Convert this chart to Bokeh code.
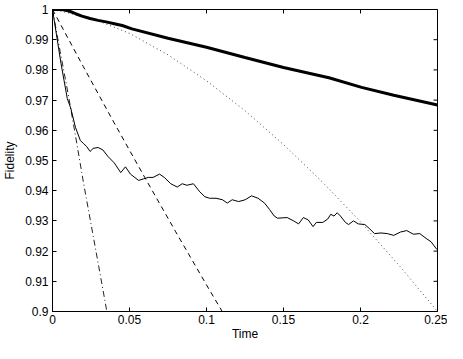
from bokeh.plotting import figure
from bokeh.models import Range1d, FixedTicker
from bokeh.embed import file_html
from bokeh.resources import INLINE

# ---- data ----
x_ticks = [0, 0.05, 0.1, 0.15, 0.2, 0.25]
x_tick_labels = ["0", "0.05", "0.1", "0.15", "0.2", "0.25"]
y_ticks = [0.9, 0.91, 0.92, 0.93, 0.94, 0.95, 0.96, 0.97, 0.98, 0.99, 1.0]
y_tick_labels = ["0.9", "0.91", "0.92", "0.93", "0.94", "0.95", "0.96", "0.97", "0.98", "0.99", "1"]

thick_t = [0, 0.0063, 0.0107, 0.015, 0.0191, 0.0244, 0.0296, 0.0348, 0.0401, 0.0453,
           0.0516, 0.075, 0.1, 0.125, 0.15, 0.1795, 0.2007, 0.2216, 0.25]
thick_f = [1.0, 1.0, 0.9995, 0.9986, 0.9978, 0.9970, 0.9964, 0.9959, 0.9953, 0.9947,
           0.9936, 0.9905, 0.9875, 0.9841, 0.9808, 0.9774, 0.9742, 0.9716, 0.9684]

dotted_t = [0, 0.025, 0.05, 0.075, 0.1, 0.125, 0.15, 0.175, 0.2, 0.225, 0.25]
dotted_f = [1.0, 0.9972, 0.9921, 0.9850, 0.9764, 0.9665, 0.9553, 0.9430, 0.9297, 0.9153, 0.9000]

dashed_t = [0, 0.02, 0.04, 0.06, 0.08, 0.1, 0.1102]
dashed_f = [1.0, 0.9811, 0.9625, 0.9443, 0.9264, 0.9088, 0.9000]

dashdot_t = [0, 0.005, 0.01, 0.015, 0.02, 0.025, 0.03, 0.0353]
dashdot_f = [1.0, 0.9860, 0.9725, 0.9580, 0.9430, 0.9290, 0.9150, 0.9000]

noisy_t = [0, 0.0055, 0.0096, 0.0118, 0.0149, 0.0181, 0.0202, 0.0222, 0.0244, 0.0264,
           0.0296, 0.0327, 0.0359, 0.0401, 0.0443, 0.0474, 0.0506, 0.0559, 0.0590, 0.0622,
           0.0653, 0.0695, 0.0726, 0.0768, 0.0810, 0.0842, 0.0873, 0.0915, 0.0957, 0.0989,
           0.1020, 0.1062, 0.1104, 0.1135, 0.1167, 0.1209, 0.1251, 0.1293, 0.1335, 0.1377,
           0.1409, 0.1440, 0.1461, 0.1524, 0.1566, 0.1598, 0.1629, 0.1661, 0.1692, 0.1713,
           0.1755, 0.1787, 0.1807, 0.1828, 0.1849, 0.1870, 0.1902, 0.1923, 0.1954, 0.1986,
           0.2028, 0.2059, 0.2091, 0.2133, 0.2174, 0.2216, 0.2259, 0.2300, 0.2343, 0.2385,
           0.2426, 0.2458, 0.2489, 0.2500]
noisy_f = [1.0, 0.9822, 0.9705, 0.9674, 0.9610, 0.9566, 0.9556, 0.9546, 0.9530, 0.9540,
           0.9543, 0.9535, 0.9514, 0.9492, 0.9460, 0.9479, 0.9455, 0.9434, 0.9439, 0.9444,
           0.9444, 0.9455, 0.9444, 0.9423, 0.9412, 0.9423, 0.9418, 0.9423, 0.9396, 0.9380,
           0.9375, 0.9375, 0.9370, 0.9359, 0.9370, 0.9364, 0.9370, 0.9383, 0.9375, 0.9359,
           0.9338, 0.9316, 0.9309, 0.9311, 0.9300, 0.9290, 0.9311, 0.9303, 0.9281, 0.9295,
           0.9295, 0.9306, 0.9322, 0.9316, 0.9327, 0.9316, 0.9295, 0.9288, 0.9300, 0.9290,
           0.9288, 0.9274, 0.9258, 0.9260, 0.9258, 0.9252, 0.9263, 0.9268, 0.9256, 0.9258,
           0.9242, 0.9231, 0.9210, 0.9204]

FONT = "Liberation Sans"
X0, X1 = 0.0, 0.25
Y0, Y1 = 0.9, 1.0

p = figure(width=447, height=343, output_backend="svg", toolbar_location=None,
           x_range=Range1d(X0, X1), y_range=Range1d(Y0, Y1),
           min_border_left=48, min_border_right=10, min_border_top=9, min_border_bottom=28)
p.background_fill_color = "white"
p.border_fill_color = "white"
p.outline_line_color = "black"
p.outline_line_width = 1
p.xgrid.visible = False
p.ygrid.visible = False

def style_axis(ax, ticks, labels):
    ax.ticker = FixedTicker(ticks=ticks)
    ax.major_label_overrides = {t: l for t, l in zip(ticks, labels)}
    ax.major_tick_in = 4
    ax.major_tick_out = 0
    ax.minor_tick_in = 0
    ax.minor_tick_out = 0
    ax.axis_line_color = "black"
    ax.major_tick_line_color = "black"
    ax.major_label_text_font = FONT
    ax.major_label_text_font_size = "12px"
    ax.major_label_text_color = "black"
    ax.axis_label_text_font = FONT
    ax.axis_label_text_font_size = "12px"
    ax.axis_label_text_font_style = "normal"
    ax.axis_label_text_color = "black"

xa = p.xaxis[0]
style_axis(xa, x_ticks, x_tick_labels)
xa.axis_label = "Time"
xa.major_label_standoff = 3
xa.axis_label_standoff = 0

ya = p.yaxis[0]
style_axis(ya, y_ticks, y_tick_labels)
ya.axis_label = "Fidelity"
ya.major_label_standoff = 4
ya.axis_label_standoff = 5

# inward tick marks on the top and right edges (box on)
tick_dx = (X1 - X0) * 4 / 389
tick_dy = (Y1 - Y0) * 4 / 306
p.segment(x0=x_ticks, y0=[Y1] * len(x_ticks), x1=x_ticks, y1=[Y1 - tick_dy] * len(x_ticks),
          line_color="black", line_width=1)
p.segment(x0=[X1] * len(y_ticks), y0=y_ticks, x1=[X1 - tick_dx] * len(y_ticks), y1=y_ticks,
          line_color="black", line_width=1)

p.line(dotted_t, dotted_f, line_color="#444444", line_width=1, line_dash="1 3")
p.line(dashed_t, dashed_f, line_color="black", line_width=1, line_dash="5 4")
p.line(dashdot_t, dashdot_f, line_color="#222222", line_width=1, line_dash="6 3 1 3")
p.line(noisy_t, noisy_f, line_color="black", line_width=1)
p.line(thick_t, thick_f, line_color="black", line_width=3)

open("out.html", "w").write(file_html(p, INLINE))
